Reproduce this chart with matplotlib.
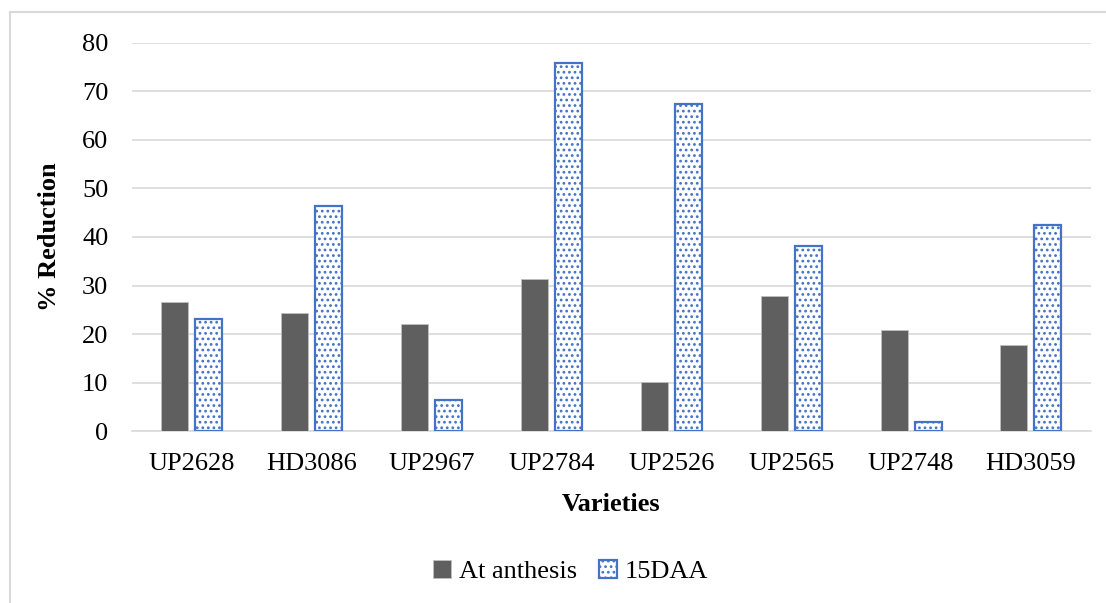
import matplotlib.pyplot as plt
import numpy as np
from matplotlib.lines import Line2D

varieties = ["UP2628", "HD3086", "UP2967", "UP2784", "UP2526", "UP2565", "UP2748", "HD3059"]
at_anthesis = [26.6, 24.4, 22.0, 31.3, 10.2, 27.9, 20.8, 17.8]
daa15 = [23.2, 46.4, 6.5, 75.8, 67.4, 38.1, 1.8, 42.5]

plt.rcParams['font.family'] = ['Liberation Serif', 'DejaVu Serif']
plt.rcParams['hatch.linewidth'] = 1.2

fig = plt.figure(figsize=(11.06, 6.03), dpi=100)
ax = fig.add_axes([0.1193, 0.285, 0.867, 0.644])

x = np.arange(len(varieties))
w = 0.225
ax.bar(x - 0.142, at_anthesis, w, color='#5F5F5F', edgecolor='#BFBFBF', linewidth=0.6,
       label='At anthesis', zorder=3)
ax.bar(x + 0.142, daa15, w, color='white', edgecolor='#4472C4', hatch='...', linewidth=1.6,
       label='15DAA', zorder=3)

ax.set_xlim(-0.5, len(varieties) - 0.5)
ax.set_ylim(0, 80)
ax.set_yticks(range(0, 81, 10))
ax.set_xticks(x)
ax.set_xticklabels(varieties)
ax.tick_params(axis='both', length=0, labelsize=19)
ax.tick_params(axis='y', pad=17)
ax.tick_params(axis='x', pad=16)
ax.grid(axis='y', color='#D9D9D9', linewidth=1.2, zorder=0)
for s in ['top', 'right', 'left']:
    ax.spines[s].set_visible(False)
ax.spines['bottom'].set_color('#D9D9D9')
ax.spines['bottom'].set_linewidth(1.2)

ax.set_xlabel('Varieties', fontsize=19, fontweight='bold', labelpad=13)
ax.set_ylabel('% Reduction', fontsize=19, fontweight='bold', labelpad=15)

fig.legend(loc='center', bbox_to_anchor=(0.516, 0.052), ncol=2, frameon=False,
           fontsize=19, handlelength=0.7, handleheight=0.7, columnspacing=0.8, handletextpad=0.3)

# chart area border (left and top edges visible)
fig.add_artist(Line2D([10 / 1106, 10 / 1106], [0, 1 - 12 / 603], transform=fig.transFigure,
                      color='#D9D9D9', linewidth=1.5))
fig.add_artist(Line2D([10 / 1106, 1], [1 - 12 / 603, 1 - 12 / 603], transform=fig.transFigure,
                      color='#D9D9D9', linewidth=1.5))

fig.savefig('out.png', dpi=100)
